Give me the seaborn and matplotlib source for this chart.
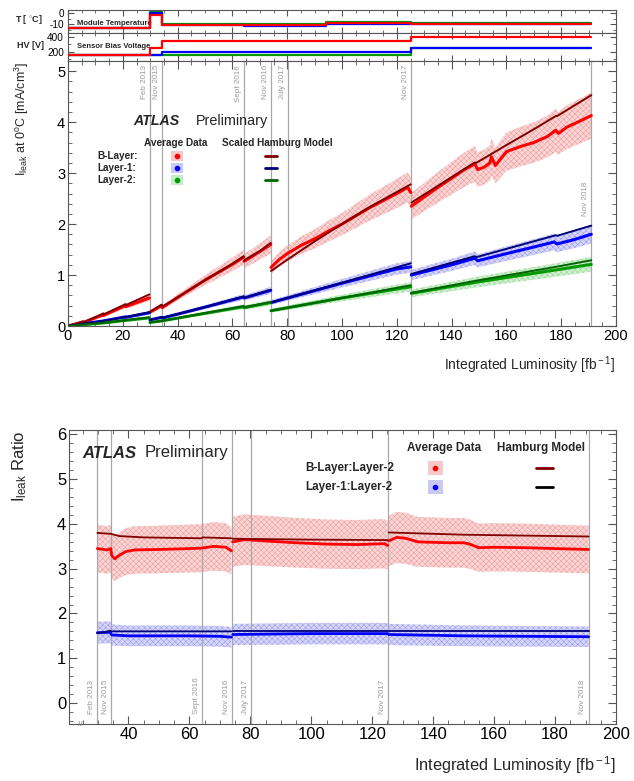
import numpy as np
import pandas as pd
import matplotlib
matplotlib.use("Agg")
import matplotlib.pyplot as plt
import matplotlib.transforms as mtrans
from matplotlib.patches import Rectangle
from matplotlib.ticker import MultipleLocator
import seaborn as sns

sns.set_theme(style="white")
plt.rcParams["font.family"] = ["Liberation Sans", "DejaVu Sans"]
plt.rcParams["mathtext.fontset"] = "custom"
plt.rcParams["mathtext.rm"] = "Liberation Sans"
plt.rcParams["mathtext.it"] = "Liberation Sans:italic"
plt.rcParams["mathtext.bf"] = "Liberation Sans:bold"
plt.rcParams["hatch.linewidth"] = 0.35

# ---------------- data ----------------
LINE_LUMI = [29.8, 34.2, 64.2, 74.0, 80.2, 125.2, 191.0]
LINE_LABELS = ["Feb 2013", "Nov 2015", "Sept 2016", "Nov 2016", "July 2017", "Nov 2017", "Nov 2018"]

# module temperature strip (step levels between edges)
T_EDGES = [0, 29.8, 34.2, 64.2, 94.0, 125.2, 191.0]
T_BLAYER = [-13.5, -1.5, -10.3, -10.3, -8.5, -9.6]
T_LAYER1 = [-13.5, 0.0, -10.6, -11.5, -9.5, -10.0]
T_LAYER2 = [-13.5, 1.5, -9.6, -9.6, -8.0, -9.0]

# sensor bias voltage strip
HV_EDGES = [0, 29.8, 34.2, 125.2, 191.0]
HV_BLAYER = [150, 250, 350, 400]
HV_LAYER1 = [150, 150, 200, 250]
HV_LAYER2 = [150, 150, 150, 250]

# leakage current at 0C [mA/cm3], segments separated by annealing periods
BL_MODEL_X = [[0, 5.5, 5.6, 13, 13.1, 21, 21.1, 29.7],
              [29.9, 34.2, 34.4, 40, 50, 60, 64.1],
              [64.3, 70, 74.0],
              [74.1, 80, 90, 100, 110, 120, 125.1],
              [125.3, 135, 148.5, 149, 160, 170, 178, 178.5, 191]]
BL_MODEL_Y = [[0, 0.09, 0.07, 0.25, 0.23, 0.43, 0.41, 0.62],
              [0.28, 0.42, 0.38, 0.56, 0.90, 1.22, 1.37],
              [1.29, 1.47, 1.63],
              [1.08, 1.30, 1.66, 2.00, 2.33, 2.63, 2.78],
              [2.42, 2.75, 3.21, 3.20, 3.55, 3.86, 4.12, 4.12, 4.53]]
BL_DATA_X = [[0, 5.5, 5.6, 13, 13.1, 21, 21.1, 29.7],
             [29.9, 34.2, 34.4, 40, 50, 60, 64.1],
             [64.3, 70, 74.0],
             [74.1, 77, 80, 85, 90, 95, 100, 110, 120, 124, 125.1],
             [125.3, 130, 135, 140, 145, 148.5, 149.5, 152, 154, 154.5, 156, 160, 165, 170, 175, 178, 179, 182, 186, 191]]
BL_DATA_Y = [[0, 0.08, 0.07, 0.22, 0.21, 0.40, 0.38, 0.55],
             [0.27, 0.40, 0.36, 0.56, 0.90, 1.21, 1.35],
             [1.27, 1.46, 1.60],
             [1.15, 1.30, 1.42, 1.58, 1.71, 1.86, 2.00, 2.32, 2.60, 2.72, 2.62],
             [2.35, 2.53, 2.72, 2.90, 3.08, 3.18, 3.07, 3.12, 3.20, 3.32, 3.15, 3.42, 3.52, 3.60, 3.72, 3.84, 3.78, 3.90, 4.00, 4.13]]

L1_MODEL_X = [[0, 13, 21, 21.1, 29.7], [29.9, 34.2, 34.4, 50, 64.1], [64.3, 74.0],
              [74.1, 100, 125.1], [125.3, 148.5, 149, 178, 178.5, 191]]
L1_MODEL_Y = [[0, 0.10, 0.18, 0.175, 0.27], [0.12, 0.17, 0.16, 0.37, 0.58], [0.55, 0.71],
              [0.46, 0.85, 1.23], [1.02, 1.37, 1.35, 1.78, 1.77, 1.97]]
L1_DATA_X = [[0, 13, 21, 21.1, 29.7], [29.9, 34.2, 34.4, 50, 64.1], [64.3, 74.0],
             [74.1, 100, 120, 125.1], [125.3, 140, 148.5, 149.5, 160, 170, 177.5, 178.5, 185, 191]]
L1_DATA_Y = [[0, 0.10, 0.18, 0.17, 0.26], [0.12, 0.17, 0.155, 0.37, 0.57], [0.55, 0.70],
             [0.46, 0.84, 1.12, 1.16], [1.00, 1.20, 1.33, 1.28, 1.42, 1.55, 1.65, 1.61, 1.70, 1.80]]

L2_MODEL_X = [[0, 13, 21, 29.7], [29.9, 34.2, 64.1], [64.3, 74.0], [74.1, 100, 125.1], [125.3, 149, 178, 191]]
L2_MODEL_Y = [[0, 0.065, 0.115, 0.17], [0.07, 0.10, 0.39], [0.37, 0.47], [0.30, 0.55, 0.80], [0.65, 0.89, 1.16, 1.29]]
L2_DATA_X = [[0, 13, 21, 29.7], [29.9, 34.2, 64.1], [64.3, 74.0], [74.1, 100, 125.1], [125.3, 149, 178, 191]]
L2_DATA_Y = [[0, 0.06, 0.11, 0.16], [0.07, 0.10, 0.38], [0.36, 0.46], [0.30, 0.55, 0.77], [0.64, 0.86, 1.10, 1.21]]

BAND_FRAC = {"B-Layer": 0.11, "Layer-1": 0.10, "Layer-2": 0.12}

# ratios (bottom panel)
R_BL_DATA_X = [[29.8, 31, 33, 34.2, 34.5, 35.5, 37, 39, 42, 50, 60, 64, 68, 72, 73.8],
               [74.2, 78, 85, 95, 105, 115, 124, 125.1],
               [125.4, 128, 131, 135, 145, 150, 152, 155, 160, 170, 180, 191]]
R_BL_DATA_Y = [[3.45, 3.44, 3.42, 3.45, 3.30, 3.22, 3.30, 3.38, 3.42, 3.43, 3.45, 3.46, 3.50, 3.48, 3.40],
               [3.60, 3.65, 3.62, 3.58, 3.55, 3.54, 3.56, 3.52],
               [3.62, 3.70, 3.68, 3.60, 3.58, 3.58, 3.55, 3.47, 3.48, 3.47, 3.45, 3.43]]
R_BL_MODEL_X = [[29.8, 34.2, 37, 45, 64, 64.3, 73.8], [74.2, 100, 125.1], [125.4, 150, 191]]
R_BL_MODEL_Y = [[3.80, 3.78, 3.73, 3.70, 3.68, 3.70, 3.68], [3.67, 3.65, 3.64], [3.81, 3.76, 3.72]]
R_L1_DATA_X = [[29.8, 34.0, 34.5, 40, 60, 70, 73.8], [74.2, 100, 125.1], [125.4, 150, 170, 191]]
R_L1_DATA_Y = [[1.57, 1.58, 1.52, 1.50, 1.50, 1.49, 1.47], [1.53, 1.55, 1.55], [1.53, 1.50, 1.49, 1.48]]
R_L1_MODEL_X = [[29.8, 34.0, 34.5, 73.8], [74.2, 125.1], [125.4, 191]]
R_L1_MODEL_Y = [[1.56, 1.61, 1.60, 1.60], [1.60, 1.60], [1.61, 1.61]]
R_BAND_FRAC = 0.155

RED, RED_M, RED_B = "#ff0000", "#800000", "#f6c9c9"
BLUE, BLUE_M, BLUE_B = "#0000ff", "#00007a", "#c9c9f6"
GREEN, GREEN_M, GREEN_B = "#009a00", "#006400", "#c6ecc6"
GRAY = "#a8a8a8"


def seg_df(xs, ys):
    rows = []
    for i, (sx, sy) in enumerate(zip(xs, ys)):
        for a, b in zip(sx, sy):
            rows.append((i, a, b))
    return pd.DataFrame(rows, columns=["seg", "lumi", "val"])


def draw_line(ax, xs, ys, color, lw, z):
    df = seg_df(xs, ys)
    sns.lineplot(data=df, x="lumi", y="val", units="seg", estimator=None, sort=False,
                 color=color, lw=lw, ax=ax, legend=False, zorder=z)


def draw_band(ax, xs, ys, frac, face, edge):
    for sx, sy in zip(xs, ys):
        sx = np.asarray(sx, float)
        sy = np.asarray(sy, float)
        ax.fill_between(sx, sy * (1 - frac), sy * (1 + frac), facecolor=face, edgecolor=edge,
                        hatch="xxxxxx", linewidth=0, alpha=0.75, zorder=1)


def draw_steps(ax, edges, levels, color, z):
    df = pd.DataFrame({"lumi": edges, "val": list(levels) + [levels[-1]]})
    sns.lineplot(data=df, x="lumi", y="val", estimator=None, sort=False, drawstyle="steps-post",
                 color=color, lw=1.6, ax=ax, legend=False, zorder=z)


def style(ax, labelsize):
    for s in ax.spines.values():
        s.set_color("#555555")
        s.set_linewidth(0.8)
    ax.tick_params(which="both", direction="in", top=True, right=True, bottom=True, left=True,
                   colors="#555555", labelcolor="black", labelsize=labelsize, pad=2)
    ax.tick_params(which="major", length=6, width=0.8)
    ax.tick_params(which="minor", length=3, width=0.6)
    ax.set_xlabel("")
    ax.set_ylabel("")


W, H = 634, 781
fig = plt.figure(figsize=(W / 100, H / 100), dpi=100)


def ax_px(l, t, r, b):
    return fig.add_axes([l / W, 1 - b / H, (r - l) / W, (b - t) / H])


ax_t = ax_px(68, 10, 616, 33)
ax_hv = ax_px(68, 33, 616, 61)
ax1 = ax_px(68, 61, 616, 326)
ax2 = ax_px(69, 430, 616, 724)

# ---------------- strips ----------------
draw_steps(ax_t, T_EDGES, T_LAYER2, GREEN, 2)
draw_steps(ax_t, T_EDGES, T_LAYER1, BLUE, 3)
draw_steps(ax_t, T_EDGES, T_BLAYER, RED, 4)
ax_t.set_ylim(-18, 3)
ax_t.set_yticks([0, -10])
ax_t.set_yticklabels(["0", "-10"])
draw_steps(ax_hv, HV_EDGES, HV_LAYER2, GREEN, 2)
draw_steps(ax_hv, HV_EDGES, HV_LAYER1, BLUE, 3)
draw_steps(ax_hv, HV_EDGES, HV_BLAYER, RED, 4)
ax_hv.set_ylim(70, 460)
ax_hv.set_yticks([200, 400])
for a in (ax_t, ax_hv):
    a.set_xlim(0, 200)
    a.xaxis.set_major_locator(MultipleLocator(20))
    a.xaxis.set_minor_locator(MultipleLocator(5))
    style(a, 7.2)
    a.tick_params(which="major", length=4)
    a.tick_params(which="minor", length=2)
    a.tick_params(axis="x", labelbottom=False)
    a.tick_params(axis="y", pad=3)
ax_t.yaxis.set_minor_locator(MultipleLocator(5))
ax_hv.yaxis.set_minor_locator(MultipleLocator(100))
ax_t.text(0.016, 0.42, "Module Temperature", transform=ax_t.transAxes, fontsize=5.5, fontweight="bold", va="center")
ax_hv.text(0.016, 0.5, "Sensor Bias Voltage", transform=ax_hv.transAxes, fontsize=5.5, fontweight="bold", va="center")
fig.text(43 / W, 1 - 20 / H, "T [ $^{\\circ}$C]", ha="right", va="center", fontsize=6.5, fontweight="bold")
fig.text(44 / W, 1 - 46 / H, "HV [V]", ha="right", va="center", fontsize=6.5, fontweight="bold")

# ---------------- main panel ----------------
for xs, ys, key, face, edge in [(BL_DATA_X, BL_DATA_Y, "B-Layer", RED_B, "#f08080"),
                                (L1_DATA_X, L1_DATA_Y, "Layer-1", BLUE_B, "#8080f0"),
                                (L2_DATA_X, L2_DATA_Y, "Layer-2", GREEN_B, "#70cc70")]:
    draw_band(ax1, xs, ys, BAND_FRAC[key], face, edge)
draw_line(ax1, BL_DATA_X, BL_DATA_Y, RED, 2.2, 3)
draw_line(ax1, L1_DATA_X, L1_DATA_Y, BLUE, 2.2, 3)
draw_line(ax1, L2_DATA_X, L2_DATA_Y, GREEN, 2.2, 3)
draw_line(ax1, BL_MODEL_X, BL_MODEL_Y, RED_M, 1.4, 4)
draw_line(ax1, L1_MODEL_X, L1_MODEL_Y, BLUE_M, 1.4, 4)
draw_line(ax1, L2_MODEL_X, L2_MODEL_Y, GREEN_M, 1.4, 4)
ax1.set_xlim(0, 200)
ax1.set_ylim(0, 5.2)
ax1.xaxis.set_major_locator(MultipleLocator(20))
ax1.xaxis.set_minor_locator(MultipleLocator(5))
ax1.yaxis.set_major_locator(MultipleLocator(1))
ax1.yaxis.set_minor_locator(MultipleLocator(0.2))
style(ax1, 10.5)

# ---------------- bottom panel ----------------
for xs, ys, face, edge in [(R_BL_DATA_X, R_BL_DATA_Y, RED_B, "#f08080"),
                           (R_L1_DATA_X, R_L1_DATA_Y, BLUE_B, "#8080f0")]:
    draw_band(ax2, xs, ys, R_BAND_FRAC, face, edge)
draw_line(ax2, R_BL_DATA_X, R_BL_DATA_Y, RED, 2.0, 3)
draw_line(ax2, R_L1_DATA_X, R_L1_DATA_Y, BLUE, 2.0, 3)
draw_line(ax2, R_BL_MODEL_X, R_BL_MODEL_Y, RED_M, 1.3, 4)
draw_line(ax2, R_L1_MODEL_X, R_L1_MODEL_Y, BLUE_M, 1.3, 4)
ax2.set_xlim(20.5, 200)
ax2.set_ylim(-0.47, 6.1)
ax2.xaxis.set_major_locator(MultipleLocator(20))
ax2.xaxis.set_minor_locator(MultipleLocator(5))
ax2.yaxis.set_major_locator(MultipleLocator(1))
ax2.yaxis.set_minor_locator(MultipleLocator(0.2))
style(ax2, 12)
ax2.set_xticks([40, 60, 80, 100, 120, 140, 160, 180, 200])
ax2.text(0.02, 0.0, "//", transform=ax2.transAxes, fontsize=6, color="#777777", ha="center", va="center")

# vertical date lines
for ax, ypos, va in [(ax1, 0.985, "top"), (ax2, 0.035, "bottom")]:
    for x, lab in zip(LINE_LUMI, LINE_LABELS):
        ax.axvline(x, color=GRAY, lw=0.9, zorder=2)
        yy = ypos
        if ax is ax1 and lab == "Nov 2018":
            yy = 0.545
        tr = mtrans.offset_copy(ax.get_xaxis_transform(), fig=fig, x=-1.5, y=0, units="points")
        ax.text(x, yy, lab, transform=tr, rotation=90, ha="right", va=va,
                fontsize=5.8, color="#999999")

# ---------------- legends / texts ----------------
def fx1(px):
    return (px - 68) / 548


def fy1(py):
    return (326 - py) / 265


def fx2(px):
    return (px - 69) / 547


def fy2(py):
    return (724 - py) / 294


ax1.text(fx1(133), fy1(121), "ATLAS", transform=ax1.transAxes, fontsize=10.2, fontweight="bold",
         fontstyle="italic", va="center")
ax1.text(fx1(196), fy1(121), "Preliminary", transform=ax1.transAxes, fontsize=10.4, va="center")
ax1.text(fx1(176), fy1(143), "Average Data", transform=ax1.transAxes, fontsize=7.2, fontweight="bold",
         ha="center", va="center")
ax1.text(fx1(277), fy1(143), "Scaled Hamburg Model", transform=ax1.transAxes, fontsize=7.2,
         fontweight="bold", ha="center", va="center")
for py, name, c, cb, cm in [(156, "B-Layer:", RED, RED_B, RED_M), (168, "Layer-1:", BLUE, BLUE_B, BLUE_M),
                            (180, "Layer-2:", GREEN, GREEN_B, GREEN_M)]:
    ax1.text(fx1(97), fy1(py), name, transform=ax1.transAxes, fontsize=7.2, fontweight="bold", va="center")
    ax1.add_patch(Rectangle((fx1(171), fy1(py + 5)), 12 / 548, 10 / 265, transform=ax1.transAxes,
                            facecolor=cb, edgecolor=cb, hatch="xxxx", lw=0, zorder=5))
    ax1.plot([fx1(177)], [fy1(py)], "o", ms=3.0, color=c, transform=ax1.transAxes, zorder=6)
    ax1.plot([fx1(265), fx1(277)], [fy1(py), fy1(py)], color=cm, lw=2, transform=ax1.transAxes, zorder=6)

ax2.text(fx2(82), fy2(453), "ATLAS", transform=ax2.transAxes, fontsize=12, fontweight="bold",
         fontstyle="italic", va="center")
ax2.text(fx2(145), fy2(453), "Preliminary", transform=ax2.transAxes, fontsize=12, va="center")
ax2.text(fx2(444), fy2(448), "Average Data", transform=ax2.transAxes, fontsize=8.4, fontweight="bold",
         ha="center", va="center")
ax2.text(fx2(541), fy2(448), "Hamburg Model", transform=ax2.transAxes, fontsize=8.4, fontweight="bold",
         ha="center", va="center")
for py, name, c, cb, cm in [(468, "B-Layer:Layer-2", RED, RED_B, RED_M),
                            (487, "Layer-1:Layer-2", BLUE, BLUE_B, "#000000")]:
    ax2.text(fx2(305), fy2(py), name, transform=ax2.transAxes, fontsize=8.4, fontweight="bold", va="center")
    ax2.add_patch(Rectangle((fx2(428), fy2(py + 7)), 15 / 547, 14 / 294, transform=ax2.transAxes,
                            facecolor=cb, edgecolor=cb, hatch="xxxx", lw=0, zorder=5))
    ax2.plot([fx2(435)], [fy2(py)], "o", ms=3.0, color=c, transform=ax2.transAxes, zorder=6)
    ax2.plot([fx2(536), fx2(553)], [fy2(py), fy2(py)], color=cm, lw=2, transform=ax2.transAxes, zorder=6)

fig.text(22 / W, 1 - 62 / H, "I$_{\\rm leak}$ at 0$^{\\rm o}$C [mA/cm$^{3}$]", rotation=90,
         ha="center", va="top", fontsize=9)
fig.text(616 / W, 1 - 365 / H, "Integrated Luminosity [fb$^{\\rm -1}$]", ha="right", va="center", fontsize=10)
fig.text(20 / W, 1 - 431 / H, "I$_{\\rm leak}$ Ratio", rotation=90, ha="center", va="top", fontsize=12)
fig.text(616 / W, 1 - 765 / H, "Integrated Luminosity [fb$^{\\rm -1}$]", ha="right", va="center",
         fontsize=11.8)

fig.savefig("out.png", dpi=100)
